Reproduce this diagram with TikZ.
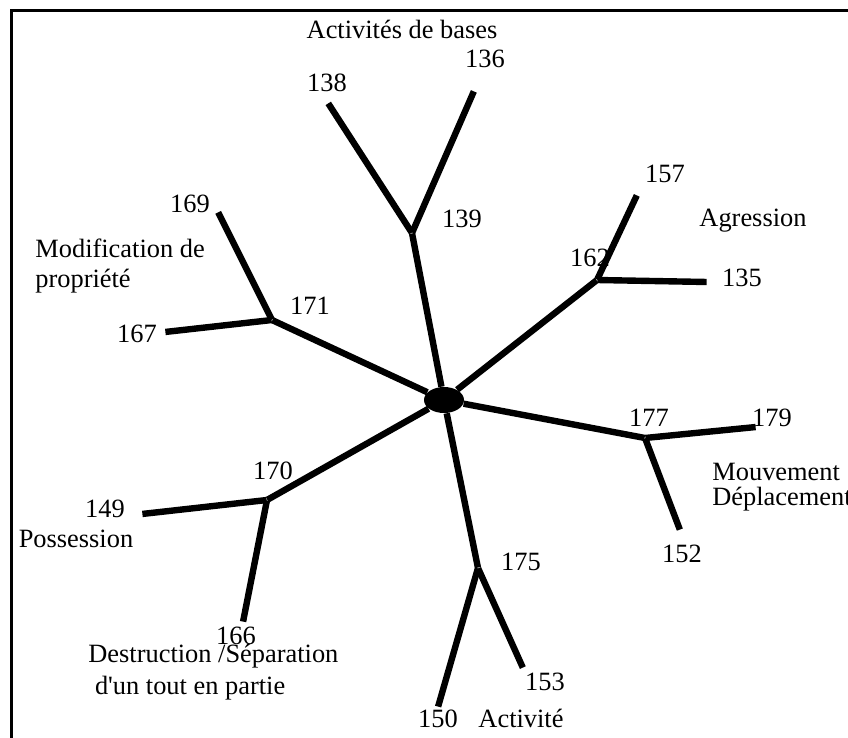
\documentclass[tikz,border=0pt]{standalone}
\usepackage{fontspec}
\setmainfont{Liberation Serif}
\usetikzlibrary{shapes.geometric}

\begin{document}
\begin{tikzpicture}[x=0.5pt,y=-0.5pt,font=\fontsize{13.2}{13}\selectfont]
\tikzstyle{hub}=[ellipse, minimum width=20pt, minimum height=13pt, inner sep=0pt, fill=black]
\tikzstyle{junc}=[inner sep=0pt, minimum size=0pt]
\tikzstyle{num}=[inner sep=0pt, anchor=base]
\tikzstyle{cat}=[inner sep=0pt, anchor=base west, align=left]
\tikzstyle{branch}=[line width=3.2pt]
\tikzstyle{frame}=[line width=1.5pt]
\useasboundingbox (0,0) rectangle (848,738);
\draw[frame] (11,738) -- (11,11) -- (848,11);
	\node[hub] (hub) at (444,400) {};
	% junctions
	\node[junc] (j_139) at (412,233) {};
	\node[junc] (j_162) at (597,280) {};
	\node[junc] (j_177) at (645,438) {};
	\node[junc] (j_175) at (478,568) {};
	\node[junc] (j_170) at (267,500) {};
	\node[junc] (j_171) at (272,320) {};
	% leaves
	\node[junc] (l_138) at (328,103) {};
	\node[junc] (l_136) at (474,91) {};
	\node[junc] (l_157) at (637,195) {};
	\node[junc] (l_135) at (707,282) {};
	\node[junc] (l_179) at (756,427) {};
	\node[junc] (l_152) at (680,530) {};
	\node[junc] (l_150) at (438,707) {};
	\node[junc] (l_153) at (523,668) {};
	\node[junc] (l_149) at (142,514) {};
	\node[junc] (l_166) at (243,622) {};
	\node[junc] (l_169) at (218,212) {};
	\node[junc] (l_167) at (165,332) {};

	\node[num] (t_138) at (327,92) {138};
	\node[num] (t_136) at (485,68) {136};
	\node[num] (t_139) at (462,228) {139};
	\node[num] (t_157) at (665,183) {157};
	\node[num] (t_162) at (590,267) {162};
	\node[num] (t_135) at (742,287) {135};
	\node[num] (t_177) at (649,427) {177};
	\node[num] (t_179) at (772,427) {179};
	\node[num] (t_152) at (682,562) {152};
	\node[num] (t_175) at (521,570) {175};
	\node[num] (t_153) at (545,690) {153};
	\node[num] (t_150) at (438,727) {150};
	\node[num] (t_170) at (273,480) {170};
	\node[num] (t_149) at (105,517) {149};
	\node[num] (t_166) at (236,645) {166};
	\node[num] (t_169) at (190,213) {169};
	\node[num] (t_171) at (310,315) {171};
	\node[num] (t_167) at (137,343) {167};

	\node[num] (c_bases) at (402,39) {Activités de bases};
	\node[num] (c_agr) at (753,227) {Agression};
	\node[cat] (c_modif) at (35,288) {Modification de\\[2pt]propriété};
	\node[num] (c_poss) at (76,547) {Possession};
	\node[cat] (c_destr) at (88,694) {Destruction /Séparation\\[3pt]\ d\textquotesingle un tout en partie};
	\node[cat] (c_mouv) at (712,506) {Mouvement\\Déplacement};
	\node[num] (c_act) at (521,727) {Activité};

	\path
		(hub) edge [branch] (j_139)
		(j_139) edge [branch] (l_138)
		(j_139) edge [branch] (l_136)
		(hub) edge [branch] (j_162)
		(j_162) edge [branch] (l_157)
		(j_162) edge [branch] (l_135)
		(hub) edge [branch] (j_177)
		(j_177) edge [branch] (l_179)
		(j_177) edge [branch] (l_152)
		(hub) edge [branch] (j_175)
		(j_175) edge [branch] (l_150)
		(j_175) edge [branch] (l_153)
		(hub) edge [branch] (j_170)
		(j_170) edge [branch] (l_149)
		(j_170) edge [branch] (l_166)
		(hub) edge [branch] (j_171)
		(j_171) edge [branch] (l_169)
		(j_171) edge [branch] (l_167);

\end{tikzpicture}
\end{document}
